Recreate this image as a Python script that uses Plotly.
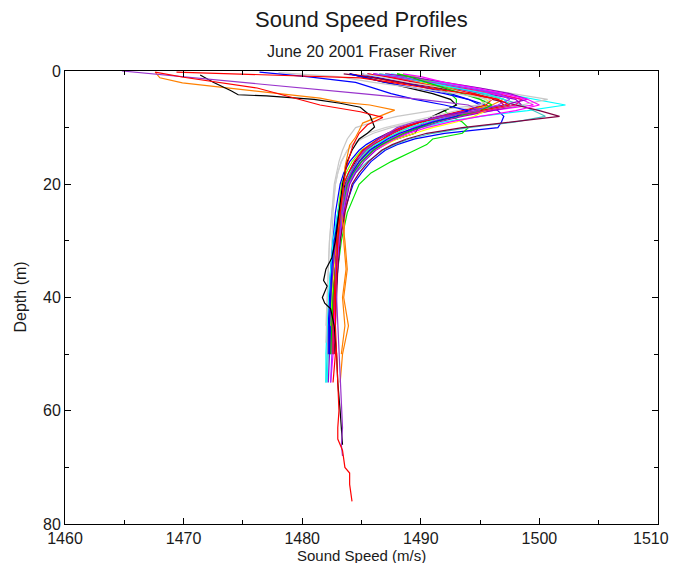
import plotly.graph_objects as go

# ---------------- data ----------------
# common depth grid (m) used by the "standard" casts
grid_depth = [0.5, 1, 2, 3, 4, 5, 6, 7, 8, 9, 10, 11, 12, 13, 14, 16, 18, 20, 25, 30, 35, 40, 45, 50, 55]

# sound speed (m/s) of standard casts on grid_depth (each cast may stop early)
cast_red = [1484.0, 1485.5, 1488.0, 1491.0, 1494.5, 1496.5, 1497.0, 1495.0, 1492.0, 1490.0, 1488.5, 1487.5, 1486.8, 1486.0, 1485.5, 1484.8, 1484.2, 1483.8, 1483.4, 1483.1, 1482.9, 1482.8, 1482.7, 1482.8, 1482.6]
cast_blue = [1485.0, 1486.0, 1488.5, 1490.5, 1492.5, 1494.0, 1495.5, 1496.5, 1497.0, 1496.8, 1496.5, 1492.0, 1489.5, 1488.0, 1487.0, 1485.8, 1485.0, 1484.3, 1483.5, 1483.0, 1482.8, 1482.5, 1482.4, 1482.4]
cast_green = [1487.0, 1488.5, 1490.0, 1491.5, 1492.5, 1493.0, 1493.0, 1492.0, 1492.5, 1493.5, 1494.0, 1493.5, 1491.0, 1490.5, 1489.5, 1487.5, 1485.8, 1484.8, 1483.8, 1483.3, 1483.0, 1482.8, 1482.6, 1482.5]
cast_black = [1484.0, 1485.0, 1487.0, 1489.0, 1491.0, 1492.5, 1493.0, 1492.0, 1491.0, 1490.3, 1489.8, 1489.5, 1488.0, 1486.5, 1485.5, 1484.5, 1484.0, 1483.6, 1483.2, 1482.9, 1482.7, 1482.6, 1482.5]
cast_magenta = [1486.0, 1487.5, 1490.0, 1493.0, 1496.0, 1498.5, 1499.5, 1496.0, 1493.0, 1491.0, 1489.5, 1488.5, 1487.5, 1486.8, 1486.0, 1485.0, 1484.4, 1483.9, 1483.5, 1483.1, 1482.9, 1482.7, 1482.6, 1482.6, 1482.4]
cast_cyan = [1487.5, 1489.0, 1491.5, 1494.0, 1497.0, 1499.5, 1502.2, 1499.0, 1495.0, 1492.0, 1490.0, 1488.5, 1487.5, 1486.5, 1485.8, 1484.8, 1484.0, 1483.5, 1483.0, 1482.6, 1482.4, 1482.3, 1482.2, 1482.2, 1482.1]
cast_teal = [1488.0, 1489.0, 1491.0, 1493.0, 1495.0, 1497.0, 1498.5, 1499.5, 1500.5, 1498.0, 1494.0, 1491.0, 1489.0, 1487.8, 1486.8, 1485.5, 1484.5, 1483.9, 1483.3, 1482.9, 1482.6, 1482.4, 1482.2, 1482.1, 1482.0]
cast_orange = [1486.5, 1488.0, 1490.5, 1493.0, 1495.5, 1497.0, 1496.0, 1494.0, 1492.0, 1490.5, 1489.0, 1488.0, 1487.0, 1486.2, 1485.6, 1484.8, 1484.3, 1483.9, 1483.6, 1483.5, 1483.7, 1483.4, 1483.6, 1483.3]
cast_purple = [1485.5, 1487.0, 1489.5, 1492.5, 1495.5, 1498.0, 1498.5, 1496.0, 1493.5, 1491.5, 1490.0, 1488.8, 1487.8, 1487.0, 1486.2, 1485.2, 1484.5, 1484.0, 1483.5, 1483.2, 1483.0, 1482.8, 1482.7, 1482.6]
cast_yellow = [1487.0, 1488.0, 1490.0, 1492.0, 1494.0, 1495.5, 1496.0, 1495.5, 1494.5, 1493.0, 1491.0, 1489.5, 1488.0, 1487.0, 1486.0, 1485.0, 1484.2, 1483.7, 1483.2, 1482.9, 1482.7, 1482.5, 1482.3, 1482.2]
cast_gray = [1487.0, 1489.0, 1492.0, 1495.0, 1498.0, 1500.7, 1498.5, 1495.0, 1492.0, 1489.5, 1487.5, 1486.0, 1485.0, 1484.3, 1483.8, 1483.3, 1483.0, 1482.8, 1482.6, 1482.5, 1482.4, 1482.3, 1482.2, 1482.1]
cast_maroon = [1483.5, 1485.5, 1488.5, 1491.5, 1494.0, 1496.0, 1498.0, 1500.0, 1501.7, 1497.5, 1493.5, 1490.5, 1488.8, 1487.6, 1486.7, 1485.6, 1484.8, 1484.2, 1483.6, 1483.2, 1483.0, 1482.9, 1482.8, 1482.7]
cast_pink = [1486.0, 1487.5, 1490.5, 1493.5, 1496.5, 1498.5, 1498.0, 1495.5, 1493.0, 1491.0, 1489.5, 1488.5, 1487.6, 1486.8, 1486.0, 1485.0, 1484.3, 1483.8, 1483.3, 1483.0, 1482.8, 1482.6, 1482.5, 1482.4]
cast_lime = [1488.0, 1489.5, 1491.0, 1492.5, 1494.0, 1495.0, 1495.5, 1494.0, 1492.0, 1490.0, 1488.5, 1487.3, 1486.4, 1485.7, 1485.0, 1484.2, 1483.7, 1483.3, 1483.0, 1482.8, 1482.6, 1482.5, 1482.4]
cast_blue2 = [1484.0, 1485.0, 1487.0, 1489.5, 1492.0, 1494.0, 1495.0, 1494.0, 1492.0, 1490.0, 1488.5, 1487.2, 1486.2, 1485.4, 1484.8, 1484.0, 1483.5, 1483.2, 1482.8, 1482.6, 1482.4, 1482.3, 1482.2, 1482.2]
cast_red2 = [1485.5, 1487.0, 1489.5, 1492.0, 1494.5, 1496.0, 1495.5, 1493.5, 1491.5, 1490.0, 1488.7, 1487.7, 1486.8, 1486.0, 1485.4, 1484.6, 1484.1, 1483.7, 1483.3, 1483.0, 1482.8, 1482.7, 1482.6]
cast_purple2 = [1487.0, 1489.0, 1492.0, 1495.0, 1497.5, 1499.0, 1497.0, 1494.0, 1491.5, 1489.8, 1488.4, 1487.4, 1486.5, 1485.8, 1485.2, 1484.4, 1483.9, 1483.5, 1483.1, 1482.8, 1482.6, 1482.4, 1482.3, 1482.3, 1482.2]
cast_cyan2 = [1486.5, 1488.0, 1490.5, 1493.0, 1495.5, 1497.0, 1497.5, 1495.0, 1492.5, 1490.5, 1489.0, 1487.9, 1487.0, 1486.2, 1485.5, 1484.6, 1484.0, 1483.5, 1483.0, 1482.6, 1482.4, 1482.2, 1482.1, 1482.0, 1482.0]
cast_magenta2 = [1488.5, 1490.0, 1492.0, 1494.5, 1497.0, 1499.0, 1500.0, 1498.0, 1495.0, 1492.5, 1490.5, 1489.0, 1487.8, 1486.9, 1486.1, 1485.0, 1484.3, 1483.8, 1483.4, 1483.1, 1482.9, 1482.8, 1482.7, 1482.6]
cast_gray2 = [1485.0, 1486.5, 1489.0, 1492.0, 1494.0, 1495.5, 1495.0, 1493.0, 1491.0, 1489.0, 1487.0, 1485.5, 1484.8, 1484.2, 1483.8, 1483.3, 1483.0, 1482.8, 1482.5, 1482.3, 1482.2, 1482.1, 1482.0]
cast_violet2 = [1486.0, 1488.0, 1491.0, 1494.0, 1496.5, 1497.5, 1496.5, 1494.5, 1492.5, 1490.8, 1489.4, 1488.3, 1487.4, 1486.6, 1485.9, 1485.0, 1484.4, 1483.9, 1483.4, 1483.1, 1482.9, 1482.7, 1482.6, 1482.5, 1482.4]
cast_green2 = [1488.0, 1489.0, 1490.5, 1492.0, 1493.5, 1495.0, 1496.0, 1495.0, 1493.0, 1491.2, 1489.8, 1488.6, 1487.6, 1486.7, 1486.0, 1485.0, 1484.3, 1483.8, 1483.3, 1483.0, 1482.8, 1482.6, 1482.5, 1482.4]

# casts with their own depth sampling
violet_long_depth = [0, 1, 2, 3, 4, 5, 6, 7, 8, 9, 10, 12, 14, 16, 18, 20, 25, 30, 35, 40, 45, 50, 55, 60, 63, 66, 68]
violet_long_speed = [1464.8, 1469.7, 1474.6, 1479.5, 1485.0, 1490.0, 1494.0, 1495.0, 1492.0, 1489.5, 1488.0, 1486.5, 1485.3, 1484.6, 1484.1, 1483.7, 1483.3, 1483.0, 1482.8, 1482.9, 1483.0, 1483.1, 1483.2, 1483.3, 1483.4, 1483.3, 1483.4]

red_long_depth = [0.2, 1.1, 3.0, 6.0, 7.2, 8.2, 9.5, 11, 13, 15, 17, 20, 25, 30, 35, 40, 45, 50, 55, 60, 63, 65, 67, 70, 71, 73, 76]
red_long_speed = [1467.6, 1470.0, 1476.2, 1481.5, 1484.9, 1486.8, 1485.5, 1484.8, 1484.3, 1484.0, 1483.7, 1483.5, 1483.2, 1483.0, 1482.9, 1482.8, 1482.8, 1482.9, 1483.0, 1483.1, 1483.0, 1483.0, 1483.4, 1483.6, 1484.0, 1484.0, 1484.2]

orange_long_depth = [0.2, 1.2, 2.1, 4.8, 5.5, 6.0, 6.9, 8.0, 9.2, 10.5, 11.7, 13.1, 15, 17, 20, 25, 30, 35, 40, 45, 50, 55]
orange_long_speed = [1467.6, 1468.0, 1469.9, 1481.5, 1483.2, 1485.7, 1487.8, 1486.5, 1485.1, 1484.8, 1484.5, 1484.0, 1483.8, 1483.6, 1483.5, 1483.3, 1483.6, 1483.8, 1483.5, 1483.9, 1483.4, 1483.2]

black_long_depth = [0.7, 2, 3.5, 4.2, 4.4, 5.0, 5.7, 6.4, 7.8, 9.9, 11, 12, 14, 16, 18, 20, 25, 30, 33, 35, 37, 38, 40, 41, 42, 45, 50, 55, 60, 63, 66]
black_long_speed = [1471.4, 1472.5, 1474.0, 1474.6, 1477.0, 1481.0, 1483.2, 1484.9, 1485.7, 1486.1, 1485.5, 1484.8, 1484.2, 1483.8, 1483.6, 1483.4, 1483.1, 1482.8, 1482.5, 1482.0, 1481.8, 1482.1, 1481.7, 1481.9, 1482.4, 1482.7, 1482.9, 1483.0, 1483.2, 1483.3, 1483.4]

red_top_depth = [0.2, 0.7, 1.2, 2, 3, 4, 5, 6, 7, 8, 9, 10, 11, 12, 13, 14, 16, 18, 20, 25, 30, 35, 40, 45, 50]
red_top_speed = [1469.4, 1477.0, 1484.9, 1487.5, 1490.5, 1494.0, 1496.5, 1497.5, 1495.0, 1492.0, 1490.0, 1488.3, 1487.2, 1486.4, 1485.7, 1485.1, 1484.4, 1483.9, 1483.5, 1483.1, 1482.9, 1482.8, 1482.7, 1482.6, 1482.6]

blue_top_depth = [0.2, 1.0, 2.0, 3, 4, 5, 6, 7, 8, 9, 10, 11, 12, 13, 14, 16, 18, 20, 25, 30, 35, 40, 45, 50]
blue_top_speed = [1476.4, 1480.4, 1484.5, 1486.0, 1487.5, 1489.5, 1492.0, 1494.0, 1493.0, 1491.0, 1489.5, 1488.2, 1487.2, 1486.4, 1485.7, 1484.8, 1484.2, 1483.7, 1483.1, 1482.7, 1482.5, 1482.4, 1482.3, 1482.3]

gray_top_depth = [0.3, 1.0, 2, 3, 4, 5, 6, 7, 8, 9, 10, 12, 14, 16, 18, 20, 25, 30, 35, 40, 45, 48]
gray_top_speed = [1478.0, 1483.0, 1486.0, 1489.5, 1493.0, 1496.0, 1495.0, 1491.0, 1488.0, 1486.0, 1484.5, 1483.8, 1483.4, 1483.1, 1482.9, 1482.7, 1482.5, 1482.3, 1482.2, 1482.1, 1482.0, 1482.0]

grid_casts = [
    ("#ff0000", cast_red), ("#0000ff", cast_blue), ("#00e600", cast_green),
    ("#000000", cast_black), ("#ff00ff", cast_magenta), ("#00ffff", cast_cyan),
    ("#40c0c0", cast_teal), ("#ff8000", cast_orange), ("#9900cc", cast_purple),
    ("#ffff00", cast_yellow), ("#c8c8c8", cast_gray), ("#800040", cast_maroon),
    ("#ff0080", cast_pink), ("#80ff00", cast_lime), ("#0000ff", cast_blue2),
    ("#ff0000", cast_red2), ("#9900cc", cast_purple2), ("#00ffff", cast_cyan2),
    ("#ff00ff", cast_magenta2), ("#d0d0d0", cast_gray2), ("#9933ff", cast_violet2),
    ("#00cc00", cast_green2),
]
own_casts = [
    ("#c8c8c8", gray_top_depth, gray_top_speed),
    ("#0000ff", blue_top_depth, blue_top_speed),
    ("#ff0000", red_top_depth, red_top_speed),
    ("#ff8000", orange_long_depth, orange_long_speed),
    ("#000000", black_long_depth, black_long_speed),
    ("#9933cc", violet_long_depth, violet_long_speed),
    ("#ff0000", red_long_depth, red_long_speed),
]

x_ticks = [1460, 1470, 1480, 1490, 1500, 1510]
x_tick_text = ["1460", "1470", "1480", "1490", "1500", ""]  # last label placed separately so it stays on the page
last_x_label = "1510"
y_ticks = [0, 20, 40, 60, 80]

# ---------------- figure ----------------
# the page body adds an 8 px offset, so the figure is 16 px smaller than the window
FONT = "Liberation Sans, Arial, sans-serif"
fig = go.Figure()
for color, speeds in grid_casts:
    fig.add_trace(go.Scatter(x=speeds, y=grid_depth[:len(speeds)], mode="lines",
                             line=dict(color=color, width=1.2), showlegend=False, hoverinfo="skip"))
for color, depths, speeds in own_casts:
    fig.add_trace(go.Scatter(x=speeds, y=depths, mode="lines",
                             line=dict(color=color, width=1.2), showlegend=False, hoverinfo="skip"))

axis_common = dict(showline=True, linecolor="black", linewidth=1, mirror="allticks",
                   ticks="inside", ticklen=6, tickcolor="black", showgrid=False, zeroline=False,
                   automargin=False,
                   tickfont=dict(family=FONT, size=16, color="#1a1a1a"),
                   minor=dict(ticks="inside", ticklen=4, tickcolor="black", showgrid=False))

PLOT_H = 453  # plot area height in px (for paper-coordinate text placement)
PLOT_W = 593
fig.update_layout(
    width=664, height=555,
    margin=dict(l=57, r=14, t=63, b=39, autoexpand=False),
    paper_bgcolor="white", plot_bgcolor="white",
    font=dict(family=FONT, color="#1a1a1a"),
    xaxis=dict(range=[1460, 1510], tickvals=x_ticks, ticktext=x_tick_text, **axis_common),
    yaxis=dict(range=[80, 0], tickvals=y_ticks, **axis_common),
    annotations=[
        dict(text="Sound Speed Profiles", x=0.5, y=(524 - 19) / PLOT_H, xref="paper", yref="paper",
             showarrow=False, xanchor="center", yanchor="middle", font=dict(size=22)),
        dict(text="June 20 2001 Fraser River", x=0.5, y=(524 - 51) / PLOT_H, xref="paper", yref="paper",
             showarrow=False, xanchor="center", yanchor="middle", font=dict(size=16)),
        dict(text="Sound Speed (m/s)", x=0.5, y=(524 - 555) / PLOT_H, xref="paper", yref="paper",
             showarrow=False, xanchor="center", yanchor="middle", font=dict(size=15)),
        dict(text="Depth (m)", x=(20 - 65) / PLOT_W, y=0.5, xref="paper", yref="paper", textangle=-90,
             showarrow=False, xanchor="center", yanchor="middle", font=dict(size=16)),
        dict(text=last_x_label, x=x_ticks[-1], xref="x", y=(524 - 538) / PLOT_H, yref="paper",
             showarrow=False, xanchor="right", yanchor="middle", xshift=13,
             font=dict(size=16, color="#1a1a1a")),
    ],
)
fig.update_xaxes(minor_dtick=5)
fig.update_yaxes(minor_dtick=10)

fig.write_html("out.html")
